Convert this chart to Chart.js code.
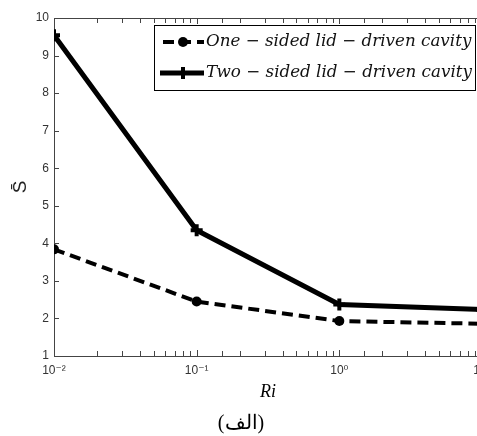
<!DOCTYPE html>
<html>
<head>
<meta charset="utf-8">
<script src="https://cdn.jsdelivr.net/npm/chart.js@4"></script>
<style>
  html, body { margin: 0; padding: 0; background: #fff; overflow: hidden; }
  #wrap { width: 500px; height: 436px; position: relative; }
</style>
</head>
<body>
<div id="wrap"><canvas id="chart"></canvas></div>
<script>
// values
const riValues = [0.01, 0.1, 1, 10];
const oneSided = [3.84, 2.45, 1.93, 1.86];
const twoSided = [9.54, 4.35, 2.37, 2.24];
const seriesNames = ['One \u2212 sided lid \u2212 driven cavity', 'Two \u2212 sided lid \u2212 driven cavity'];
const decadeLabels = ['10\u207B\u00B2', '10\u207B\u00B9', '10\u2070', '10\u00B9'];
const yRange = [1, 10];
const yTitle = 'S\u0304';

const isDecade = v => Math.abs(Math.log10(v) - Math.round(Math.log10(v))) < 1e-9;

// matlab-like box with inward ticks
const frameTicks = {
  id: 'frameTicks',
  beforeDatasetsDraw(chart) {
    const { ctx, chartArea: a, scales: { x, y } } = chart;
    ctx.save();
    ctx.strokeStyle = '#444';
    ctx.lineWidth = 1;
    ctx.beginPath();
    ctx.rect(Math.round(a.left) + 0.5, Math.round(a.top) + 0.5, Math.round(a.right - a.left), Math.round(a.bottom - a.top));
    x.ticks.forEach(t => {
      const px = Math.round(x.getPixelForValue(t.value)) + 0.5;
      const len = isDecade(t.value) ? 6 : 5;
      ctx.moveTo(px, a.bottom); ctx.lineTo(px, a.bottom - len);
      ctx.moveTo(px, a.top); ctx.lineTo(px, a.top + len);
    });
    y.ticks.forEach(t => {
      const py = Math.round(y.getPixelForValue(t.value)) + 0.5;
      ctx.moveTo(a.left, py); ctx.lineTo(a.left + 5, py);
      ctx.moveTo(a.right, py); ctx.lineTo(a.right - 5, py);
    });
    ctx.stroke();
    // y title, rotated
    ctx.translate(21, (a.top + a.bottom) / 2);
    ctx.rotate(-Math.PI / 2);
    ctx.fillStyle = '#222';
    ctx.font = '19px "Liberation Sans", "DejaVu Sans"';
    ctx.textAlign = 'center';
    ctx.textBaseline = 'middle';
    ctx.fillText(yTitle, 0, 0);
    ctx.restore();
  }
};

// boxed legend inside the plot
const boxLegend = {
  id: 'boxLegend',
  afterDraw(chart) {
    const { ctx } = chart;
    const bx = 154, by = 25, bw = 321, bh = 65;
    ctx.save();
    ctx.fillStyle = '#fff';
    ctx.fillRect(bx, by, bw, bh);
    ctx.strokeStyle = '#000';
    ctx.lineWidth = 1;
    ctx.strokeRect(bx + 0.5, by + 0.5, bw, bh);
    // fit the label width to the box like the original
    ctx.font = 'italic 16px "DejaVu Serif"';
    const w = ctx.measureText(seriesNames[1]).width;
    const size = Math.min(17, 16 * 266 / w);
    ctx.font = 'italic ' + size.toFixed(2) + 'px "DejaVu Serif"';
    ctx.textBaseline = 'middle';
    chart.data.datasets.forEach((ds, i) => {
      const yy = by + 17 + i * 31;
      ctx.strokeStyle = ds.borderColor;
      ctx.lineWidth = ds.borderWidth;
      ctx.setLineDash(ds.borderDash || []);
      ctx.beginPath();
      ctx.moveTo(i === 0 ? 163 : 160, yy);
      ctx.lineTo(204, yy);
      ctx.stroke();
      ctx.setLineDash([]);
      // marker
      ctx.fillStyle = '#000';
      if (ds.pointStyle === 'circle') {
        ctx.beginPath();
        ctx.arc(183, yy, ds.pointRadius, 0, Math.PI * 2);
        ctx.fill();
      } else {
        ctx.lineWidth = ds.pointBorderWidth;
        ctx.beginPath();
        ctx.moveTo(183, yy - ds.pointRadius); ctx.lineTo(183, yy + ds.pointRadius);
        ctx.moveTo(183 - ds.pointRadius, yy); ctx.lineTo(183 + ds.pointRadius, yy);
        ctx.stroke();
      }
      ctx.fillStyle = '#111';
      ctx.fillText(ds.label, 206, yy);
    });
    ctx.restore();
  }
};

new Chart(document.getElementById('chart'), {
  type: 'line',
  data: {
    datasets: [
      {
        label: seriesNames[0],
        data: riValues.map((r, i) => ({ x: r, y: oneSided[i] })),
        borderColor: '#000',
        backgroundColor: '#000',
        borderWidth: 4,
        borderDash: [11, 6],
        pointStyle: 'circle',
        pointRadius: 5,
        pointBorderWidth: 0,
        tension: 0
      },
      {
        label: seriesNames[1],
        data: riValues.map((r, i) => ({ x: r, y: twoSided[i] })),
        borderColor: '#000',
        backgroundColor: '#000',
        borderWidth: 5,
        pointStyle: 'cross',
        pointRadius: 6,
        pointBorderWidth: 4,
        tension: 0
      }
    ]
  },
  options: {
    responsive: true,
    maintainAspectRatio: false,
    animation: false,
    layout: { padding: { top: 18, right: 18, left: 0, bottom: 0 } },
    plugins: {
      legend: { display: false },
      tooltip: { enabled: false },
      title: {
        display: true,
        position: 'bottom',
        text: '(\u0627\u0644\u0641)',
        color: '#000',
        font: { family: '"Liberation Serif", "DejaVu Serif"', size: 20, weight: 'normal' },
        padding: { top: 2, bottom: 0 }
      }
    },
    scales: {
      x: {
        type: 'logarithmic',
        min: riValues[0],
        max: riValues[riValues.length - 1],
        grid: { display: false, drawTicks: false },
        border: { display: false },
        ticks: {
          autoSkip: false,
          maxRotation: 0,
          padding: 7,
          color: '#333',
          font: { family: '"Liberation Sans", "DejaVu Sans"', size: 12 },
          callback: (v) => {
            if (!isDecade(v)) return '';
            const k = riValues.findIndex(r => Math.abs(r - v) < 1e-9 * r);
            return k >= 0 ? decadeLabels[k] : '';
          }
        },
        title: {
          display: true,
          text: 'Ri',
          color: '#000',
          font: { family: '"Liberation Serif"', size: 18, style: 'italic' },
          padding: { top: 0, bottom: 7 }
        },
        afterFit: s => { s.height = 54; }
      },
      y: {
        min: yRange[0],
        max: yRange[1],
        grid: { display: false, drawTicks: false },
        border: { display: false },
        ticks: {
          stepSize: 1,
          padding: 5,
          color: '#333',
          font: { family: '"Liberation Sans", "DejaVu Sans"', size: 12 }
        },
        title: { display: false },
        afterFit: s => { s.width = 54; }
      }
    }
  },
  plugins: [frameTicks, boxLegend]
});
</script>
</body>
</html>
